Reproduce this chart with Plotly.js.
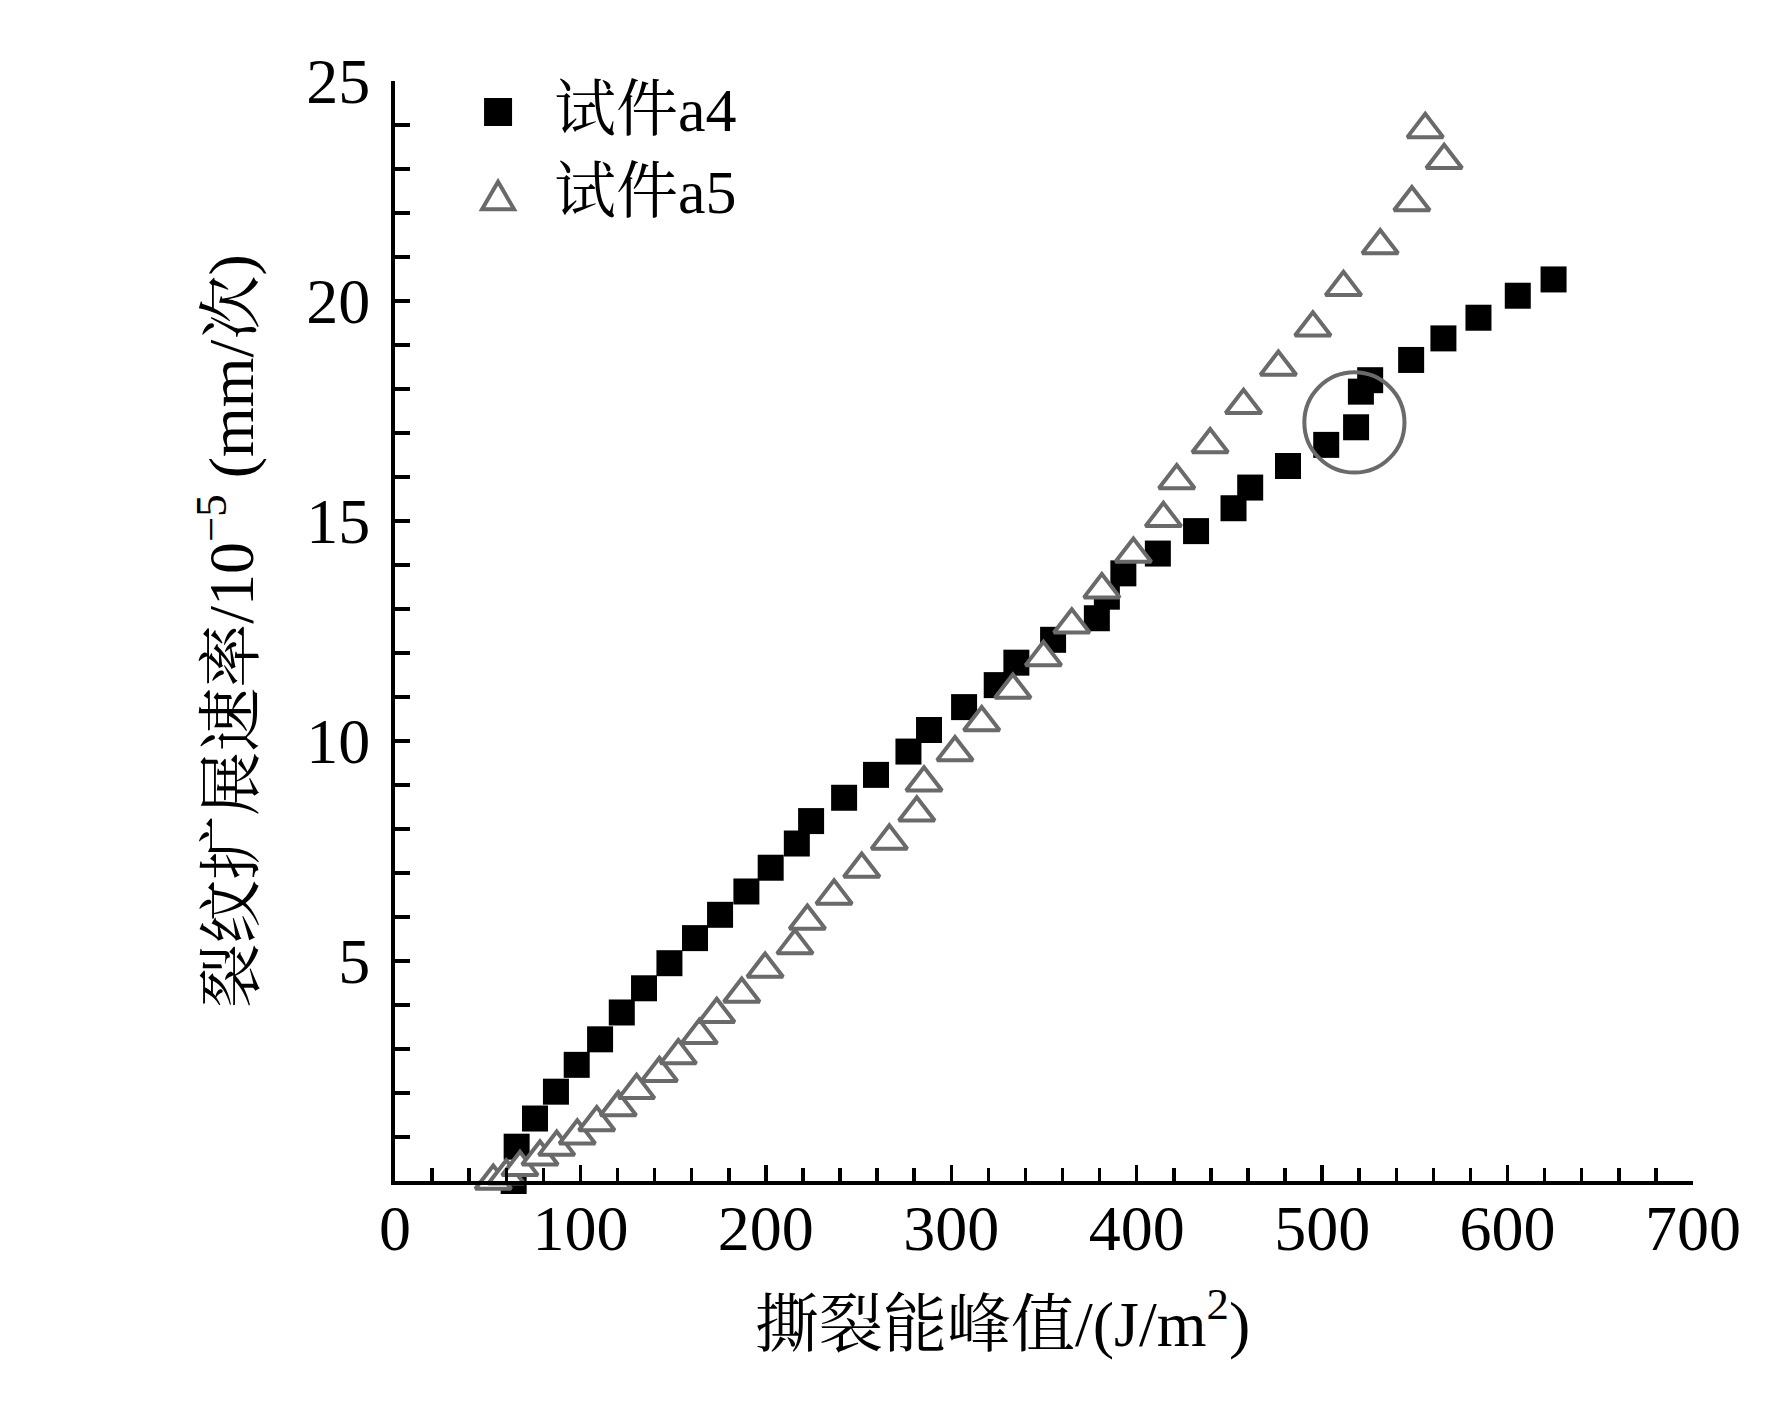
<!DOCTYPE html>
<html>
<head>
<meta charset="utf-8">
<script src="https://cdn.plot.ly/plotly-3.0.1.min.js"></script>
<style>
  html, body { margin: 0; padding: 0; background: #fff; }
  #chart { width: 1772px; height: 1403px; }
</style>
</head>
<body>
<div id="chart"></div>
<script>
// 试件a4 (black squares)
const a4X = [64, 65.6, 75.5, 86.8, 98.0, 110.6, 122.3, 134.3, 148.0, 161.8,
  175.3, 189.5, 202.6, 216.7, 224.4, 242.2, 259.4, 276.9, 288.0, 306.9,
  324.5, 335.1, 354.9, 378.5, 383.9, 392.8, 411.4, 432.0, 452.2, 461.2,
  481.6, 502.2, 518.3, 520.9, 525.9, 548.0, 565.4, 584.3, 605.5, 624.8];
const a4Y = [0.0, 0.78, 1.42, 2.03, 2.64, 3.22, 3.83, 4.38, 4.95, 5.52,
  6.05, 6.58, 7.12, 7.67, 8.18, 8.71, 9.23, 9.76, 10.25, 10.77,
  11.27, 11.78, 12.30, 12.79, 13.28, 13.81, 14.26, 14.77, 15.29, 15.76,
  16.25, 16.73, 17.13, 17.94, 18.20, 18.66, 19.15, 19.62, 20.12, 20.49];

// 试件a5 (open triangles)
const a5X = [53, 60, 67.4, 78.2, 87.2, 98.3, 108.8, 120.4, 130.3, 142.6,
  152.8, 164.1, 173.5, 187.0, 199.6, 215.7, 222.4, 236.8, 251.7, 266.6,
  281.4, 285.3, 302.0, 316.4, 333.2, 349.7, 365.0, 381.2, 398.2, 414.4,
  421.6, 439.6, 457.6, 476.4, 495.0, 511.5, 531.3, 548.4, 555.6, 565.8];
const a5Y = [0.0, 0.12, 0.31, 0.55, 0.77, 1.03, 1.33, 1.67, 2.06, 2.45,
  2.85, 3.31, 3.79, 4.25, 4.82, 5.35, 5.91, 6.48, 7.09, 7.73,
  8.37, 9.05, 9.74, 10.42, 11.16, 11.90, 12.64, 13.44, 14.25, 15.06,
  15.92, 16.74, 17.63, 18.50, 19.39, 20.31, 21.26, 22.24, 23.90, 23.20];

const seriesNames = ["试件a4", "试件a5"];
const xTicks = [0, 100, 200, 300, 400, 500, 600, 700];
const yTicks = [5, 10, 15, 20, 25];
const xTitle = "撕裂能峰值/(J/m<sup>2</sup>)";
const yTitle = "裂纹扩展速率/10<sup>−5</sup> (mm/次)";

// circled anomaly in a4 (centre and half-widths, data units)
const ringX = 517.4, ringY = 17.24, ringRx = 27, ringRy = 1.14;

const FONT = "Liberation Serif, 'Times New Roman', 'Noto Serif CJK SC', 'Noto Sans CJK SC', serif";
const GREY = "#6a6a6a";

const traces = [
  {
    type: "scatter",
    mode: "markers",
    name: seriesNames[0],
    x: a4X,
    y: a4Y,
    marker: { symbol: "square", size: 26, color: "#000" },
    cliponaxis: false,
    showlegend: false,
  },
  {
    type: "scatter",
    mode: "markers",
    name: seriesNames[1],
    x: a5X,
    y: a5Y,
    marker: { symbol: "triangle-up", size: 31, color: "#fff", line: { color: GREY, width: 4 } },
    cliponaxis: false,
    showlegend: false,
  },
];

const axisCommon = {
  showline: true,
  linewidth: 4,
  linecolor: "#000",
  showgrid: false,
  zeroline: false,
  ticks: "inside",
  tickwidth: 3.5,
  tickcolor: "#000",
  tickfont: { family: FONT, size: 64, color: "#000" },
  fixedrange: true,
};

const layout = {
  width: 1772,
  height: 1403,
  margin: { l: 395, r: 79, t: 81, b: 222 },
  paper_bgcolor: "#fff",
  plot_bgcolor: "#fff",
  font: { family: FONT, color: "#000" },
  showlegend: false,
  xaxis: Object.assign({}, axisCommon, {
    range: [0, 700],
    tickmode: "array",
    tickvals: xTicks,
    ticklen: 16,
    ticklabelstandoff: -12,
    minor: { tickmode: "linear", tick0: 0, dtick: 20, ticks: "inside", ticklen: 13, tickwidth: 3.5, tickcolor: "#000" },
  }),
  yaxis: Object.assign({}, axisCommon, {
    range: [0, 25],
    tickmode: "array",
    tickvals: yTicks,
    ticklen: 15,
    ticklabelstandoff: 8,
    minor: { tickmode: "linear", tick0: 0, dtick: 1, ticks: "inside", ticklen: 15, tickwidth: 3.5, tickcolor: "#000" },
    title: { text: yTitle, font: { family: FONT, size: 64, color: "#000" }, standoff: 33 },
  }),
  shapes: [
    {
      type: "circle",
      xref: "x", yref: "y",
      x0: ringX - ringRx, x1: ringX + ringRx,
      y0: ringY - ringRy, y1: ringY + ringRy,
      line: { color: GREY, width: 4 },
    },
    // legend symbols
    {
      type: "rect",
      xref: "paper", yref: "paper",
      xsizemode: "pixel", ysizemode: "pixel",
      xanchor: 0.0794, yanchor: 0.9718,
      x0: -14, x1: 14, y0: -14, y1: 14,
      fillcolor: "#000",
      line: { width: 0 },
    },
    {
      type: "path",
      xref: "paper", yref: "paper",
      xsizemode: "pixel", ysizemode: "pixel",
      xanchor: 0.0794, yanchor: 0.892,
      path: "M -16,-9.5 L 16,-9.5 L 0,18 Z",
      fillcolor: "#fff",
      line: { color: GREY, width: 4 },
    },
  ],
  annotations: [
    {
      xref: "paper", yref: "paper",
      x: 0.121, y: 0.974,
      xanchor: "left", yanchor: "middle",
      showarrow: false,
      text: seriesNames[0],
      font: { family: FONT, size: 62, color: "#000" },
    },
    {
      xref: "paper", yref: "paper",
      x: 0.121, y: 0.899,
      xanchor: "left", yanchor: "middle",
      showarrow: false,
      text: seriesNames[1],
      font: { family: FONT, size: 62, color: "#000" },
    },
    // x axis title, set a little left of centre as in the source
    {
      xref: "paper", yref: "paper",
      x: 0.468, y: -0.126,
      xanchor: "center", yanchor: "middle",
      showarrow: false,
      text: xTitle,
      font: { family: FONT, size: 64, color: "#000" },
    },
  ],
};

Plotly.newPlot("chart", traces, layout, { staticPlot: true, displayModeBar: false });
</script>
</body>
</html>
